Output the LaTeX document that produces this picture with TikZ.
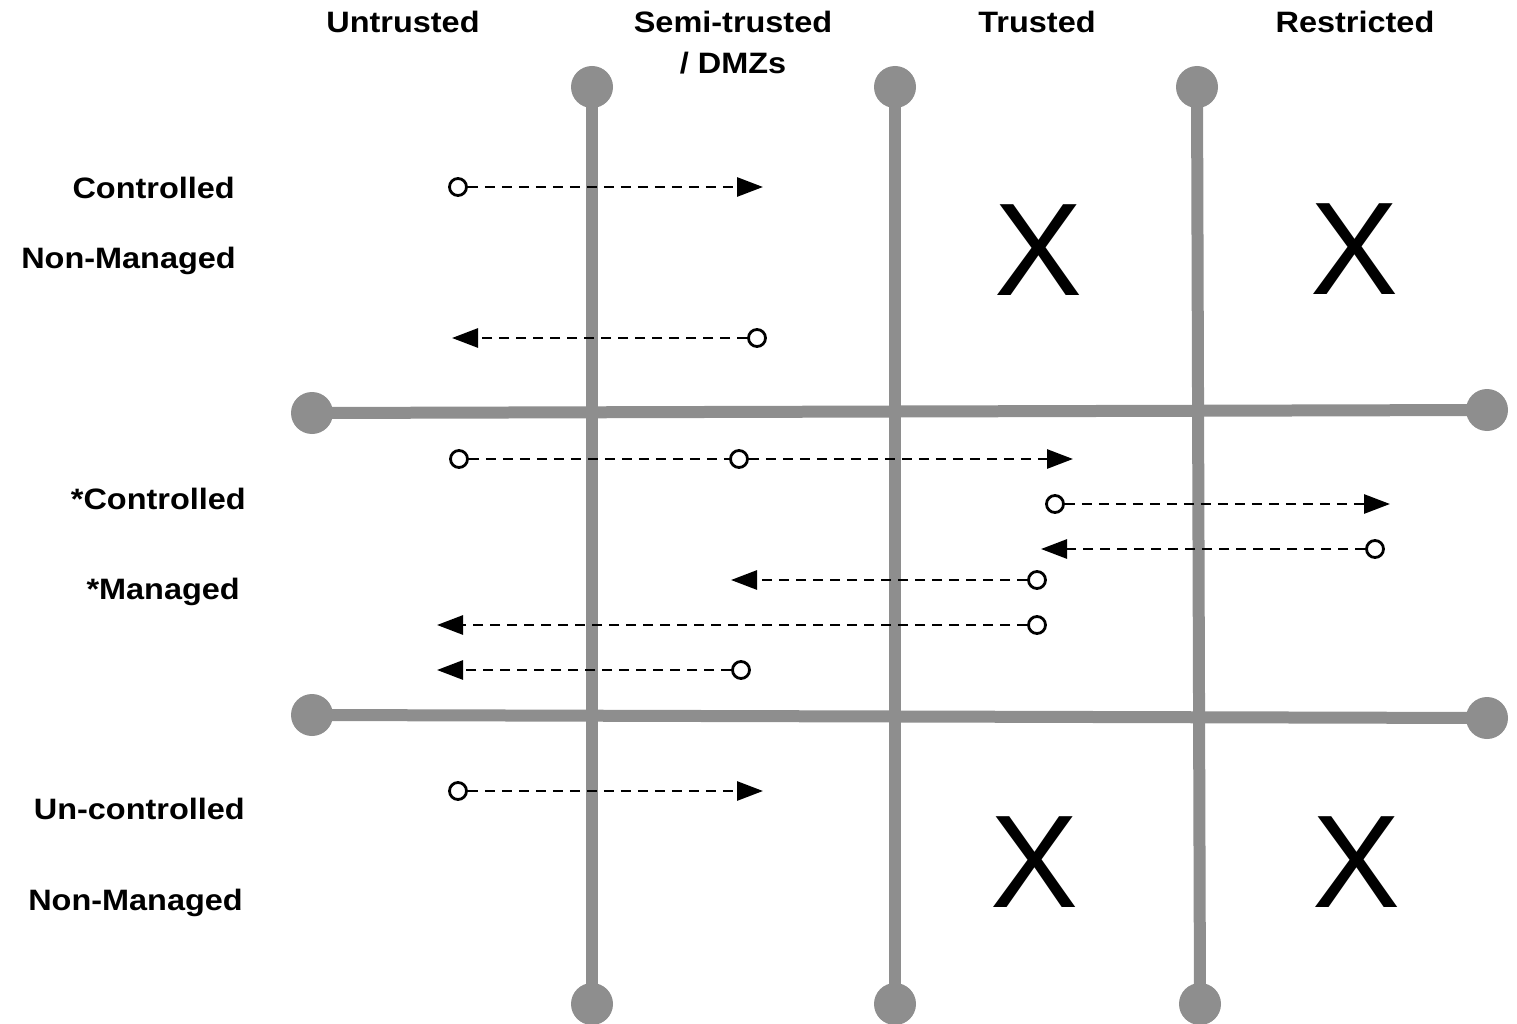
\documentclass[tikz,border=0pt]{standalone}
\usepackage{fontspec}
\setmainfont{Liberation Sans}
\newfontfamily\lblfont[FakeStretch=1.1]{Liberation Sans}
\usetikzlibrary{arrows.meta}
\definecolor{linegray}{HTML}{8E8E8E}
\tikzset{
  dotnode/.style={circle,fill=linegray,minimum size=42pt,inner sep=0pt,draw=none},
  grayline/.style={draw=linegray,line width=12pt},
  opencirc/.style={circle,draw=black,fill=white,line width=2.8pt,minimum size=17pt,inner sep=0pt},
  flow/.style={draw=black,line width=2.8pt,dash pattern=on 10pt off 7pt,-{Triangle[length=26pt,width=19pt]}},
  flowplain/.style={draw=black,line width=2.8pt,dash pattern=on 10pt off 7pt},
  lbl/.style={font=\lblfont\fontsize{29.5}{34}\selectfont\bfseries,inner sep=0pt},
  xmark/.style={font=\fontsize{132}{140}\selectfont,inner sep=0pt}
}
\begin{document}
\begin{tikzpicture}[x=1pt,y=-1pt]
\useasboundingbox (0,0) rectangle (1517,1024);
\clip (0,0) rectangle (1517,1024);
% gray grid
\node[dotnode] (v1t) at (592,87) {};
\node[dotnode] (v1b) at (592,1004) {};
\node[dotnode] (v2t) at (895,87) {};
\node[dotnode] (v2b) at (895,1004) {};
\node[dotnode] (v3t) at (1197,87) {};
\node[dotnode] (v3b) at (1200,1004) {};
\node[dotnode] (h1l) at (312,413) {};
\node[dotnode] (h1r) at (1487,410) {};
\node[dotnode] (h2l) at (312,715) {};
\node[dotnode] (h2r) at (1487,718) {};
\draw[grayline] (v1t.center) -- (v1b.center);
\draw[grayline] (v2t.center) -- (v2b.center);
\draw[grayline] (v3t.center) -- (v3b.center);
\draw[grayline] (h1l.center) -- (h1r.center);
\draw[grayline] (h2l.center) -- (h2r.center);
% column headers
\node[lbl,anchor=base] (hU) at (403,33) {Untrusted};
\node[lbl,anchor=base] (hS) at (733,33) {Semi-trusted};
\node[lbl,anchor=base] (hD) at (733,74) {/ DMZs};
\node[lbl,anchor=base] (hT) at (1037,33) {Trusted};
\node[lbl,anchor=base] (hR) at (1355,33) {Restricted};
% row labels
\node[lbl,anchor=base east] (r1a) at (235,199) {Controlled};
\node[lbl,anchor=base east] (r1b) at (236,269) {Non-Managed};
\node[lbl,anchor=base east] (r2a) at (246,509) {*Controlled};
\node[lbl,anchor=base east] (r2b) at (240,599) {*Managed};
\node[lbl,anchor=base east] (r3a) at (245,819) {Un-controlled};
\node[lbl,anchor=base east] (r3b) at (243,910) {Non-Managed};
% X marks
\node[xmark] (x1) at (1039,250) {X};
\node[xmark] (x2) at (1355,249) {X};
\node[xmark] (x3) at (1035,862) {X};
\node[xmark] (x4) at (1357,862) {X};
% flows
\node[opencirc] (s1) at (458,187) {};
\coordinate (e1) at (763,187);
\draw[flow] (s1) -- (e1);
\node[opencirc] (s2) at (757,338) {};
\coordinate (e2) at (452,338);
\draw[flow] (s2) -- (e2);
\node[opencirc] (s3) at (459,459) {};
\node[opencirc] (s3b) at (739,459) {};
\coordinate (e3) at (1073,459);
\draw[flowplain] (s3) -- (s3b);
\draw[flow] (s3b) -- (e3);
\node[opencirc] (s4) at (1055,504) {};
\coordinate (e4) at (1390,504);
\draw[flow] (s4) -- (e4);
\node[opencirc] (s5) at (1375,549) {};
\coordinate (e5) at (1041,549);
\draw[flow] (s5) -- (e5);
\node[opencirc] (s6) at (1037,580) {};
\coordinate (e6) at (731,580);
\draw[flow] (s6) -- (e6);
\node[opencirc] (s7) at (1037,625) {};
\coordinate (e7) at (437,625);
\draw[flow] (s7) -- (e7);
\node[opencirc] (s8) at (741,670) {};
\coordinate (e8) at (437,670);
\draw[flow] (s8) -- (e8);
\node[opencirc] (s9) at (458,791) {};
\coordinate (e9) at (763,791);
\draw[flow] (s9) -- (e9);
\end{tikzpicture}
\end{document}
